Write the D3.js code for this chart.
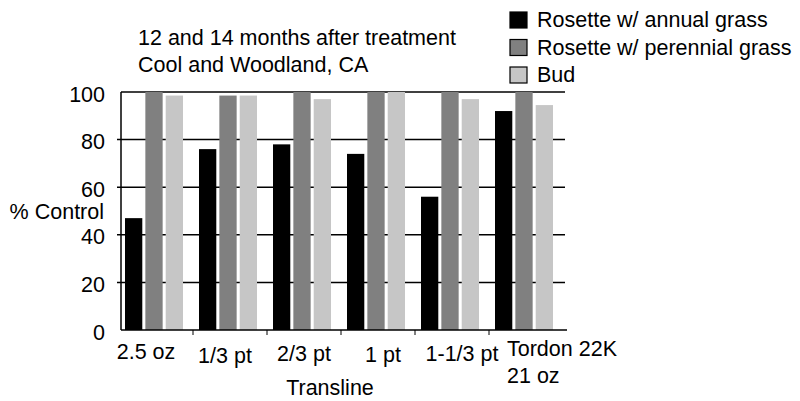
<!DOCTYPE html>
<html>
<head>
<meta charset="utf-8">
<script src="https://d3js.org/d3.v7.min.js"></script>
<style>
  body { margin: 0; background: #fff; }
  text { font-family: "Liberation Sans", Arial, sans-serif; font-size: 21.5px; fill: #000; }
</style>
</head>
<body>
<div id="chart"></div>

<script>
    // values
    const categories = ["2.5 oz", "1/3 pt", "2/3 pt", "1 pt", "1-1/3 pt", "Tordon 22K\n21 oz"];
    const seriesNames = ["Rosette w/ annual grass", "Rosette w/ perennial grass", "Bud"];
    const annual    = [47, 76, 78, 74, 56, 92];
    const perennial = [100, 98.5, 100, 100, 100, 100];
    const bud       = [98.5, 98.5, 97, 100, 97, 94.5];
    const yTicks = [0, 20, 40, 60, 80, 100];
    const colors = ["#000000", "#808080", "#c6c6c6"];

    const width = 800, height = 401;
    const plot = {left: 121, right: 565, top: 92, bottom: 330};

    const svg = d3.select("#chart")
        .append("svg")
            .attr("width", width)
            .attr("height", height);

    const x = d3.scaleBand().domain(categories).range([plot.left, plot.right]);
    const xSub = d3.scaleBand().domain(seriesNames).range([4, 62]).paddingInner(0.15);
    const y = d3.scaleLinear().domain([0, 100]).range([plot.bottom, plot.top]);

    // gridlines (behind bars)
    svg.append("g")
        .selectAll("line")
        .data(yTicks.filter(d => d > 0))
        .enter()
        .append("line")
            .attr("x1", d => d == 100 ? plot.left : plot.left - 4)
            .attr("x2", plot.right)
            .attr("y1", d => y(d))
            .attr("y2", d => y(d))
            .attr("stroke", "#000")
            .attr("stroke-width", 1.5);

    // bars
    const table = categories.map((c, i) => ({cat: c, values: [annual[i], perennial[i], bud[i]]}));

    svg.append("g")
        .selectAll("g")
        .data(table)
        .enter()
        .append("g")
            .attr("transform", d => "translate(" + x(d.cat) + ",0)")
        .selectAll("rect")
        .data(d => d.values.map((v, j) => ({name: seriesNames[j], value: v, j: j})))
        .enter()
        .append("rect")
            .attr("x", d => xSub(d.name))
            .attr("width", xSub.bandwidth())
            .attr("y", d => y(d.value))
            .attr("height", d => y(0) - y(d.value))
            .style("fill", d => colors[d.j]);

    // left axis line
    svg.append("line")
        .attr("x1", plot.left).attr("x2", plot.left)
        .attr("y1", plot.top).attr("y2", plot.bottom)
        .attr("stroke", "#000").attr("stroke-width", 1.5);

    // bottom axis with ticks on category boundaries
    svg.append("line")
        .attr("x1", plot.left).attr("x2", plot.right + 2)
        .attr("y1", plot.bottom).attr("y2", plot.bottom)
        .attr("stroke", "#000").attr("stroke-width", 1.5);

    svg.append("g")
        .selectAll("line")
        .data(categories.slice(1))
        .enter()
        .append("line")
            .attr("x1", d => x(d) - 2)
            .attr("x2", d => x(d) - 2)
            .attr("y1", plot.bottom)
            .attr("y2", plot.bottom + 5)
            .attr("stroke", "#000");

    // y tick labels
    svg.append("g")
        .selectAll("text")
        .data(yTicks)
        .enter()
        .append("text")
            .attr("x", 105)
            .attr("y", d => y(d) + 2)
            .attr("dy", "0.35em")
            .attr("text-anchor", "end")
            .text(d => d);

    // category labels
    const xLabel = d3.scalePoint().domain(categories.slice(0, 5)).range([plot.left + 25, plot.left + 341]);
    const labelY = [359, 363, 361, 362, 361];

    svg.append("g")
        .selectAll("text")
        .data(categories.slice(0, 5))
        .enter()
        .append("text")
            .attr("x", d => xLabel(d))
            .attr("y", (d, i) => labelY[i])
            .attr("text-anchor", "middle")
            .text(d => d);

    const last = categories[5];
    svg.append("text")
        .attr("x", x(last) + 16)
        .attr("y", 356)
        .selectAll("tspan")
        .data(last.split("\n"))
        .enter()
        .append("tspan")
            .attr("x", x(last) + 16)
            .attr("dy", (d, i) => i == 0 ? 0 : 27)
            .text(d => d);

    // axis titles
    svg.append("text")
        .attr("x", 330)
        .attr("y", 395)
        .attr("text-anchor", "middle")
        .text("Transline");

    svg.append("text")
        .attr("x", 104)
        .attr("y", 219)
        .attr("text-anchor", "end")
        .text("% Control");

    // chart title
    svg.append("text").attr("x", 138).attr("y", 45).text("12 and 14 months after treatment");
    svg.append("text").attr("x", 138).attr("y", 72).text("Cool and Woodland, CA");

    // legend
    const legend = svg.append("g")
        .selectAll("g")
        .data(seriesNames)
        .enter()
        .append("g")
            .attr("transform", (d, i) => "translate(510," + (12 + i * 27.5) + ")");

    legend.append("rect")
        .attr("width", 17)
        .attr("height", 16)
        .attr("stroke", "#000")
        .attr("stroke-width", 1.2)
        .style("fill", (d, i) => colors[i]);

    legend.append("text")
        .attr("x", 27)
        .attr("y", 15)
        .text(d => d);
</script>
</body>
</html>
